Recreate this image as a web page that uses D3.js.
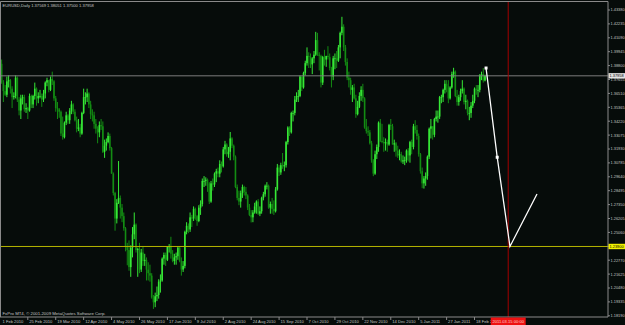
<!DOCTYPE html>
<meta charset="utf-8">
<title>EURUSD,Daily</title>
<style>
body { margin: 0; background: #000; }
svg { display: block; font-family: "Liberation Sans", Arial, sans-serif; }
</style>
<svg width="625" height="325"></svg>
<script src="https://d3js.org/d3.v7.min.js"></script>
<script>
// EURUSD daily bars, 1 Feb 2010 .. 28 Feb 2011 (one value per trading day)
const opens = [
  1.3865,1.3935,1.3960,1.3895,1.3740,1.3670,1.3640,1.3750,1.3760,1.3690,1.3620,1.3630,1.3780,1.3600,1.3510,1.3610,1.3620,1.3520,1.3530,1.3510,
  1.3630,1.3560,1.3630,1.3690,1.3610,1.3630,1.3630,1.3600,1.3650,1.3740,1.3760,1.3680,1.3770,1.3750,1.3610,1.3530,1.3520,1.3500,1.3320,1.3290,1.3410,1.3470,1.3430,
  1.3510,1.3560,1.3500,1.3430,1.3360,1.3370,1.3320,1.3490,1.3620,1.3620,1.3650,1.3560,1.3480,1.3470,1.3400,1.3360,1.3330,1.3390,1.3380,1.3170,1.3220,1.3250,
  1.3300,1.3200,1.2990,1.2830,1.2620,1.2750,1.2790,1.2710,1.2640,1.2540,1.2390,1.2360,1.2220,1.2380,1.2490,1.2570,1.2360,1.2370,1.2200,1.2340,1.2270,
  1.2280,1.2200,1.2170,1.2150,1.1970,1.1930,1.1980,1.1990,1.2100,1.2110,1.2290,1.2320,1.2280,1.2390,1.2390,1.2330,1.2270,1.2300,1.2310,1.2380,1.2270,1.2200,
  1.2230,1.2510,1.2560,1.2530,1.2630,1.2620,1.2700,1.2640,1.2600,1.2710,1.2740,1.2930,1.2930,1.2940,1.2910,1.2760,1.2910,1.2900,1.2990,1.3010,1.2990,1.3070,
  1.3050,1.3190,1.3230,1.3150,1.3170,1.3280,1.3220,1.3130,1.2880,1.2790,1.2760,1.2830,1.2880,1.2840,1.2810,1.2710,1.2650,1.2630,1.2670,1.2720,1.2760,1.2660,
  1.2680,1.2790,1.2820,1.2890,1.2890,1.2710,1.2740,1.2700,1.2680,1.2860,1.3040,1.3000,1.3060,1.3050,1.3060,1.3250,1.3370,1.3330,1.3490,1.3490,1.3600,1.3630,
  1.3630,1.3790,1.3700,1.3820,1.3900,1.3960,1.3950,1.3890,1.3940,1.3970,1.4090,1.3970,1.3960,1.3740,1.3950,1.3930,1.3960,1.3950,1.3860,1.3790,1.3940,
  1.3940,1.3920,1.4030,1.4150,1.4200,1.4030,1.3910,1.3780,1.3760,1.3680,1.3700,1.3610,1.3480,1.3540,1.3630,1.3680,1.3610,1.3370,1.3340,1.3330,1.3240,1.3100,
  1.2990,1.3150,1.3210,1.3410,1.3260,1.3250,1.3240,1.3250,1.3230,1.3390,1.3380,1.3230,1.3240,1.3180,1.3140,1.3150,1.3090,1.3100,1.3100,1.3180,1.3140,1.3250,1.3210,
  1.3380,1.3350,1.3300,1.3150,1.3010,1.2910,1.2950,1.2970,1.3130,1.3360,1.3380,1.3310,1.3440,1.3460,1.3460,1.3620,1.3620,1.3680,1.3730,1.3710,1.3610,
  1.3700,1.3810,1.3830,1.3630,1.3580,1.3620,1.3670,1.3690,1.3580,1.3590,1.3490,1.3490,1.3550,1.3590,1.3690,1.3680,1.3680,1.3800,1.3810,1.37569
];
const highs = [
  1.3960,1.3990,1.4010,1.3930,1.3760,1.3720,1.3790,1.3800,1.3770,1.3710,1.3660,1.3800,1.3790,1.3620,1.3640,1.3640,1.3640,1.3570,1.3540,1.3650,
  1.3640,1.3640,1.3740,1.3700,1.3660,1.3680,1.3650,1.3680,1.3750,1.3780,1.3760,1.3790,1.3830,1.3760,1.3630,1.3580,1.3530,1.3510,1.3460,1.3420,1.3500,1.3480,1.3530,
  1.3590,1.3570,1.3520,1.3460,1.3440,1.3400,1.3500,1.3690,1.3660,1.3690,1.3660,1.3590,1.3520,1.3500,1.3440,1.3380,1.3420,1.3440,1.3420,1.3270,1.3280,1.3330,
  1.3320,1.3210,1.3000,1.2840,1.2780,1.3094,1.2810,1.2740,1.2670,1.2550,1.2420,1.2440,1.2400,1.2550,1.2670,1.2580,1.2380,1.2420,1.2370,1.2390,1.2330,
  1.2300,1.2260,1.2240,1.2170,1.1990,1.2010,1.2060,1.2120,1.2160,1.2300,1.2340,1.2340,1.2390,1.2410,1.2470,1.2360,1.2330,1.2340,1.2390,1.2390,1.2300,1.2270,
  1.2520,1.2590,1.2580,1.2670,1.2650,1.2720,1.2710,1.2650,1.2730,1.2770,1.2950,1.2970,1.2960,1.2950,1.2920,1.2930,1.2950,1.3000,1.3030,1.3040,1.3100,1.3090,
  1.3210,1.3260,1.3240,1.3210,1.3333,1.3290,1.3230,1.3140,1.2900,1.2850,1.2850,1.2900,1.2890,1.2880,1.2820,1.2740,1.2690,1.2690,1.2750,1.2770,1.2780,1.2720,
  1.2800,1.2840,1.2900,1.2920,1.2900,1.2760,1.2790,1.2770,1.2880,1.3070,1.3060,1.3080,1.3160,1.3090,1.3260,1.3380,1.3380,1.3500,1.3510,1.3630,1.3660,1.3680,
  1.3800,1.3790,1.3830,1.3920,1.4030,1.3990,1.3980,1.3950,1.4000,1.4158,1.4150,1.3990,1.3970,1.3960,1.4010,1.3960,1.4040,1.3980,1.3870,1.3960,1.3980,
  1.4000,1.4050,1.4160,1.4282,1.4220,1.4050,1.3940,1.3830,1.3780,1.3720,1.3730,1.3640,1.3590,1.3660,1.3710,1.3730,1.3620,1.3440,1.3380,1.3350,1.3260,1.3110,
  1.3180,1.3230,1.3420,1.3440,1.3400,1.3290,1.3280,1.3270,1.3400,1.3440,1.3400,1.3270,1.3250,1.3220,1.3190,1.3170,1.3140,1.3130,1.3190,1.3200,1.3260,1.3270,1.3400,
  1.3430,1.3390,1.3320,1.3160,1.3040,1.2970,1.3000,1.3140,1.3370,1.3440,1.3380,1.3450,1.3510,1.3510,1.3630,1.3640,1.3690,1.3760,1.3760,1.3760,1.3710,
  1.3830,1.3862,1.3840,1.3680,1.3640,1.3690,1.3760,1.3700,1.3640,1.3600,1.3540,1.3580,1.3640,1.3700,1.3720,1.3720,1.3810,1.3830,1.3860,1.38051
];
const lows = [
  1.3860,1.3900,1.3880,1.3730,1.3580,1.3630,1.3620,1.3700,1.3650,1.3530,1.3600,1.3610,1.3580,1.3470,1.3440,1.3560,1.3500,1.3490,1.3440,1.3500,
  1.3530,1.3530,1.3600,1.3550,1.3570,1.3610,1.3540,1.3580,1.3610,1.3710,1.3660,1.3670,1.3720,1.3590,1.3500,1.3440,1.3450,1.3300,1.3270,1.3280,1.3390,1.3400,1.3400,
  1.3480,1.3480,1.3420,1.3330,1.3340,1.3290,1.3310,1.3480,1.3560,1.3580,1.3530,1.3440,1.3420,1.3360,1.3320,1.3240,1.3290,1.3350,1.3160,1.3120,1.3180,1.3240,
  1.3180,1.2990,1.2810,1.2520,1.2580,1.2740,1.2620,1.2590,1.2520,1.2350,1.2235,1.2190,1.2140,1.2300,1.2450,1.2340,1.2140,1.2170,1.2180,1.2230,1.2230,
  1.2110,1.2110,1.2100,1.1960,1.1876,1.1890,1.1940,1.1960,1.2010,1.2100,1.2240,1.2230,1.2270,1.2340,1.2290,1.2260,1.2240,1.2240,1.2280,1.2260,1.2150,1.2180,
  1.2210,1.2490,1.2500,1.2510,1.2550,1.2600,1.2610,1.2560,1.2590,1.2650,1.2720,1.2880,1.2890,1.2840,1.2740,1.2750,1.2850,1.2880,1.2920,1.2960,1.2960,1.3000,
  1.3040,1.3150,1.3130,1.3120,1.3100,1.3200,1.3100,1.2870,1.2770,1.2730,1.2710,1.2790,1.2810,1.2780,1.2690,1.2640,1.2588,1.2590,1.2660,1.2660,1.2650,1.2640,
  1.2660,1.2770,1.2800,1.2860,1.2700,1.2660,1.2660,1.2650,1.2670,1.2850,1.2970,1.2980,1.3030,1.3010,1.3040,1.3230,1.3300,1.3320,1.3420,1.3470,1.3580,1.3580,
  1.3620,1.3670,1.3690,1.3800,1.3880,1.3860,1.3860,1.3810,1.3900,1.3960,1.3960,1.3840,1.3700,1.3720,1.3880,1.3870,1.3930,1.3840,1.3700,1.3760,1.3850,
  1.3860,1.3910,1.3940,1.4130,1.4000,1.3880,1.3760,1.3700,1.3640,1.3580,1.3600,1.3450,1.3470,1.3530,1.3590,1.3580,1.3360,1.3320,1.3300,1.3230,1.3080,1.2969,
  1.2980,1.3110,1.3170,1.3250,1.3240,1.3170,1.3180,1.3170,1.3220,1.3350,1.3230,1.3170,1.3130,1.3120,1.3100,1.3080,1.3070,1.3060,1.3080,1.3090,1.3080,1.3150,1.3190,
  1.3320,1.3270,1.3130,1.2990,1.2870,1.2867,1.2890,1.2940,1.3110,1.3280,1.3270,1.3290,1.3420,1.3410,1.3440,1.3570,1.3580,1.3650,1.3660,1.3570,1.3600,
  1.3690,1.3780,1.3620,1.3550,1.3550,1.3590,1.3650,1.3560,1.3520,1.3470,1.3430,1.3450,1.3530,1.3570,1.3640,1.3620,1.3660,1.3760,1.3740,1.37500
];
const closes = [
  1.3935,1.3960,1.3895,1.3740,1.3670,1.3640,1.3750,1.3760,1.3690,1.3620,1.3630,1.3780,1.3600,1.3510,1.3610,1.3620,1.3520,1.3530,1.3510,1.3630,
  1.3560,1.3630,1.3690,1.3610,1.3630,1.3630,1.3600,1.3650,1.3740,1.3760,1.3680,1.3770,1.3750,1.3610,1.3530,1.3520,1.3500,1.3320,1.3290,1.3410,1.3470,1.3430,1.3510,
  1.3560,1.3500,1.3430,1.3360,1.3370,1.3320,1.3490,1.3620,1.3620,1.3650,1.3560,1.3480,1.3470,1.3400,1.3360,1.3330,1.3390,1.3380,1.3170,1.3220,1.3250,1.3300,
  1.3200,1.2990,1.2830,1.2620,1.2750,1.2790,1.2710,1.2640,1.2540,1.2390,1.2360,1.2220,1.2380,1.2490,1.2570,1.2360,1.2370,1.2200,1.2340,1.2270,1.2280,
  1.2200,1.2170,1.2150,1.1970,1.1930,1.1980,1.1990,1.2100,1.2110,1.2290,1.2320,1.2280,1.2390,1.2390,1.2330,1.2270,1.2300,1.2310,1.2380,1.2270,1.2200,1.2230,
  1.2510,1.2560,1.2530,1.2630,1.2620,1.2700,1.2640,1.2600,1.2710,1.2740,1.2930,1.2930,1.2940,1.2910,1.2760,1.2910,1.2900,1.2990,1.3010,1.2990,1.3070,1.3050,
  1.3190,1.3230,1.3150,1.3170,1.3280,1.3220,1.3130,1.2880,1.2790,1.2760,1.2830,1.2880,1.2840,1.2810,1.2710,1.2650,1.2630,1.2670,1.2720,1.2760,1.2660,1.2680,
  1.2790,1.2820,1.2890,1.2890,1.2710,1.2740,1.2700,1.2680,1.2860,1.3040,1.3000,1.3060,1.3050,1.3060,1.3250,1.3370,1.3330,1.3490,1.3490,1.3600,1.3630,1.3630,
  1.3790,1.3700,1.3820,1.3900,1.3960,1.3950,1.3890,1.3940,1.3970,1.4090,1.3970,1.3960,1.3740,1.3950,1.3930,1.3960,1.3950,1.3860,1.3790,1.3940,1.3940,
  1.3920,1.4030,1.4150,1.4200,1.4030,1.3910,1.3780,1.3760,1.3680,1.3700,1.3610,1.3480,1.3540,1.3630,1.3680,1.3610,1.3370,1.3340,1.3330,1.3240,1.3100,1.2990,
  1.3150,1.3210,1.3410,1.3260,1.3250,1.3240,1.3250,1.3230,1.3390,1.3380,1.3230,1.3240,1.3180,1.3140,1.3150,1.3090,1.3100,1.3100,1.3180,1.3140,1.3250,1.3210,1.3380,
  1.3350,1.3300,1.3150,1.3010,1.2910,1.2950,1.2970,1.3130,1.3360,1.3380,1.3310,1.3440,1.3460,1.3460,1.3620,1.3620,1.3680,1.3730,1.3710,1.3610,1.3700,
  1.3810,1.3830,1.3630,1.3580,1.3620,1.3670,1.3690,1.3580,1.3590,1.3490,1.3490,1.3550,1.3590,1.3690,1.3680,1.3680,1.3800,1.3810,1.3757,1.37958
];

const priceTicks = [1.43380,1.42235,1.41090,1.39945,1.38800,1.37655,1.36510,1.35365,1.34220,1.33075,1.31930,1.30785,
  1.29640,1.28495,1.27350,1.26205,1.25060,1.23915,1.22770,1.21625,1.20480,1.19335,1.18190];
const dateTickBars = [0,18,34,50,66,82,98,114,130,146,162,178,194,210,226,242,258,274];
const dateTickLabels = ["1 Feb 2010","25 Feb 2010","19 Mar 2010","12 Apr 2010","4 May 2010","26 May 2010","17 Jun 2010",
  "9 Jul 2010","2 Aug 2010","24 Aug 2010","15 Sep 2010","7 Oct 2010","29 Oct 2010","22 Nov 2010","14 Dec 2010",
  "5 Jan 2011","27 Jan 2011","18 Feb 2011"];

const titleText = "EURUSD,Daily  1.37569 1.38051 1.37500 1.37958";
const copyText = "FxPro MT4, \u00a9 2001-2009 MetaQuotes Software Corp.";
const bidPrice = 1.37958;
const levelPrice = 1.2390;
const levelLabel = "1.23900";
const markerBar = 293.3;
const markerLabel = "2011.03.15 00:00";
// projection drawn on the chart (bar position, price)
const pathBars = [280.6, 287.0, 294.3, 309.8];
const pathPrices = [1.3860, 1.3125, 1.2390, 1.2822];

const svg = d3.select("svg"),
  right = 608, bottom = 317,
  bg = "#060c0a", bullColor = "#36e836", bearColor = "#138c13", textColor = "#c4c4c4";

const x = d3.scaleLinear().domain([0, 280]).range([-3.6, 485.0]);
const y = d3.scaleLinear().domain([1.18190, 1.43380]).range([315.8, 10]);

svg.append("rect").attr("width", 625).attr("height", 325).attr("fill", bg);

const plot = svg.append("g");
plot.append("clipPath").attr("id", "clip")
  .append("rect").attr("x", 0).attr("y", 1).attr("width", right).attr("height", bottom - 1);

const bars = closes.map((c, i) => ({ i: i, o: opens[i], h: highs[i], l: lows[i], c: c }));

const candles = plot.append("g").attr("clip-path", "url(#clip)");
candles.selectAll("line")
  .data(bars)
  .enter().append("line")
    .attr("x1", d => x(d.i)).attr("x2", d => x(d.i))
    .attr("y1", d => y(d.h)).attr("y2", d => y(d.l))
    .attr("stroke", d => d.c >= d.o ? bullColor : bearColor)
    .attr("stroke-width", 1);
candles.selectAll("rect")
  .data(bars)
  .enter().append("rect")
    .attr("x", d => x(d.i) - 0.8)
    .attr("width", 1.6)
    .attr("y", d => y(Math.max(d.o, d.c)))
    .attr("height", d => Math.max(0.8, Math.abs(y(d.o) - y(d.c))))
    .attr("fill", d => d.c >= d.o ? bullColor : bearColor);

// bid line and level line
plot.append("line").attr("x1", 0).attr("x2", right)
  .attr("y1", y(bidPrice)).attr("y2", y(bidPrice))
  .attr("stroke", "#7c7c7c").attr("stroke-width", 1);
plot.append("line").attr("x1", 0).attr("x2", right)
  .attr("y1", y(levelPrice)).attr("y2", y(levelPrice))
  .attr("stroke", "#b4b400").attr("stroke-width", 1);

// vertical time marker
plot.append("line").attr("x1", x(markerBar)).attr("x2", x(markerBar))
  .attr("y1", 1).attr("y2", bottom)
  .attr("stroke", "#a30000").attr("stroke-width", 1);

// projection path
const pathPts = pathBars.map((b, k) => [x(b), y(pathPrices[k])]);
plot.append("path")
  .attr("d", d3.line()(pathPts))
  .attr("fill", "none").attr("stroke", "#ffffff").attr("stroke-width", 1.3);
plot.selectAll("rect.vtx")
  .data(pathPts.slice(0, 2))
  .enter().append("rect").attr("class", "vtx")
    .attr("x", d => d[0] - 1.5).attr("y", d => d[1] - 1.5)
    .attr("width", 3).attr("height", 3).attr("fill", "#ffffff");

// frame
svg.append("path")
  .attr("d", `M0.5,${bottom}V1.5H${right}V${bottom}H0`)
  .attr("fill", "none").attr("stroke", "#8a8a8a").attr("stroke-width", 1);

// texts inside the chart
svg.append("text").attr("x", 2.5).attr("y", 7.2)
  .attr("font-size", 4.1).attr("fill", textColor).text(titleText);
svg.append("text").attr("x", 2.5).attr("y", 314.5)
  .attr("font-size", 4.3).attr("fill", textColor).text(copyText);

// price axis
const pAxis = svg.append("g");
priceTicks.forEach(v => {
  pAxis.append("line").attr("x1", right).attr("x2", right + 2)
    .attr("y1", y(v)).attr("y2", y(v)).attr("stroke", "#8a8a8a");
  pAxis.append("text").attr("x", right + 2.5).attr("y", y(v) + 1.4)
    .attr("font-size", 3.9).attr("fill", textColor).text(v.toFixed(5));
});

// time axis
const tAxis = svg.append("g");
dateTickBars.forEach((b, k) => {
  const px = x(b);
  if (px > 0) {
    tAxis.append("line").attr("x1", px).attr("x2", px)
      .attr("y1", bottom).attr("y2", bottom + 3).attr("stroke", "#8a8a8a");
  }
  tAxis.append("text").attr("x", Math.max(2.5, px + 1.5)).attr("y", 322.8)
    .attr("font-size", 4.1).attr("fill", textColor).text(dateTickLabels[k]);
});

// price boxes on the axis
function priceBox(v, label, fill, color) {
  const g = svg.append("g");
  g.append("rect").attr("x", right + 0.5).attr("y", y(v) - 2.7)
    .attr("width", 625 - right).attr("height", 5.4).attr("fill", fill);
  g.append("text").attr("x", right + 1.5).attr("y", y(v) + 1.4)
    .attr("font-size", 3.9).attr("fill", color).text(label);
}
priceBox(bidPrice, bidPrice.toFixed(5), "#e2e2e2", "#000000");
priceBox(levelPrice, levelLabel, "#f2f200", "#000000");

// time marker label
const mx = x(markerBar);
svg.append("rect").attr("x", mx - 17.5).attr("y", bottom + 0.5)
  .attr("width", 35).attr("height", 7.5).attr("fill", "#ee1111");
svg.append("text").attr("x", mx).attr("y", 322.8).attr("text-anchor", "middle")
  .attr("font-size", 4.1).attr("fill", "#ffd0d0").text(markerLabel);
</script>
